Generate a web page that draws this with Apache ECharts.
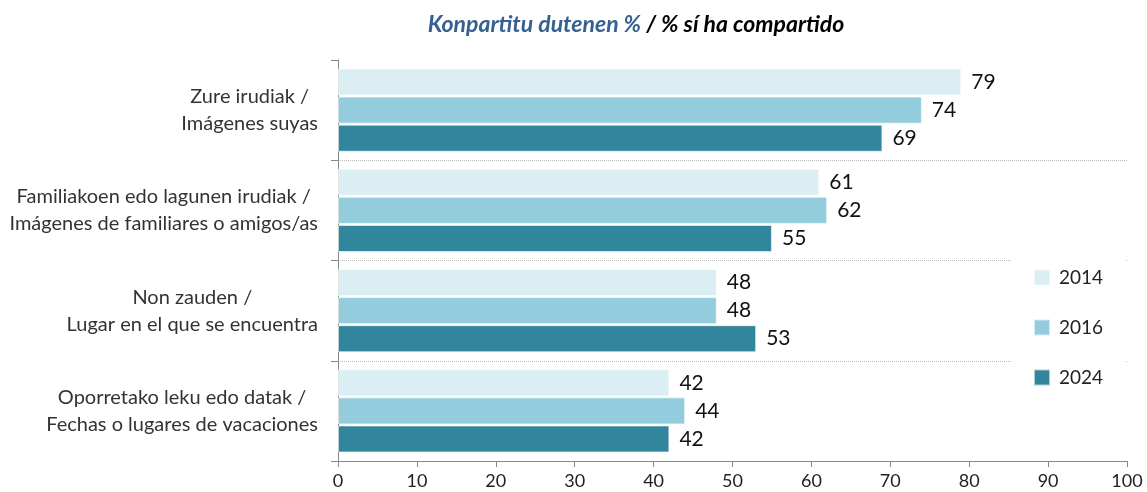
<!DOCTYPE html>
<html><head><meta charset="utf-8">
<script src="https://cdn.jsdelivr.net/npm/echarts@6/dist/echarts.min.js"></script>
<style>html,body{margin:0;padding:0;background:#fff}#c{width:1147px;height:492px}</style>
</head><body><div id="c"></div>
<script>
const categories = [
  "Zure irudiak /\nImágenes suyas",
  "Familiakoen edo lagunen irudiak /\nImágenes de familiares o amigos/as",
  "Non zauden /\nLugar en el que se encuentra",
  "Oporretako leku edo datak /\nFechas o lugares de vacaciones"
];
const seriesNames = ["2014", "2016", "2024"];
const v2014 = [79, 61, 48, 42];
const v2016 = [74, 62, 48, 44];
const v2024 = [69, 55, 53, 42];
const colors = ["#DAEEF3", "#93CDDD", "#31859C"];
const FONT = "Lato";

const chart = echarts.init(document.getElementById('c'));
const mk = (name, data, color) => ({
  name, type: 'bar', data,
  barGap: '4%', barCategoryGap: '17%',
  itemStyle: { color, borderColor: 'rgba(255,255,255,0.6)', borderWidth: 1 },
  label: { show: true, position: 'right', distance: 10, color: '#111', fontSize: 21, fontFamily: FONT },
  emphasis: { disabled: true }
});
chart.setOption({
  animation: false,
  title: {
    text: '{a|Konpartitu dutenen %} {b|/ % sí ha compartido}',
    left: 631, top: 8, textAlign: 'center',
    textStyle: { rich: {
      a: { color: '#376092', fontSize: 23, fontWeight: 'bold', fontStyle: 'italic', fontFamily: FONT },
      b: { color: '#000', fontSize: 23, fontWeight: 'bold', fontStyle: 'italic', fontFamily: FONT }
    } }
  },
  legend: {
    orient: 'vertical', left: 1012, top: 254, width: 80,
    backgroundColor: '#fff', padding: [14, 22, 14, 21],
    itemWidth: 16, itemHeight: 16, itemGap: 31,
    icon: 'rect',
    textStyle: { fontSize: 19, color: '#222', fontFamily: FONT, padding: [0, 0, 0, 4] },
    data: seriesNames
  },
  grid: { left: 338, right: 20, top: 60, bottom: 31, containLabel: false },
  xAxis: {
    type: 'value', min: 0, max: 100, interval: 10,
    axisLine: { show: true, lineStyle: { color: '#888' } },
    axisTick: { show: true, length: 6, lineStyle: { color: '#888' } },
    axisLabel: { fontSize: 18, color: '#222', margin: 11, fontFamily: FONT },
    splitLine: { show: false }
  },
  yAxis: {
    type: 'category', data: categories, inverse: true,
    axisLine: { show: true, lineStyle: { color: '#888' } },
    axisTick: { show: true, length: 7, lineStyle: { color: '#888' } },
    splitLine: { show: true, interval: (i) => i > 0, lineStyle: { color: '#bbb', type: [1, 1] } },
    axisLabel: {
      margin: 20, align: 'right', color: '#333', fontFamily: FONT,
      formatter: (v) => v.split('\n').map(l => '{c|' + l + '}').join('\n'),
      rich: { c: { align: 'center', fontSize: 20, lineHeight: 27, color: '#333', fontFamily: FONT } }
    }
  },
  series: [mk(seriesNames[0], v2014, colors[0]), mk(seriesNames[1], v2016, colors[1]), mk(seriesNames[2], v2024, colors[2])]
});
</script></body></html>
